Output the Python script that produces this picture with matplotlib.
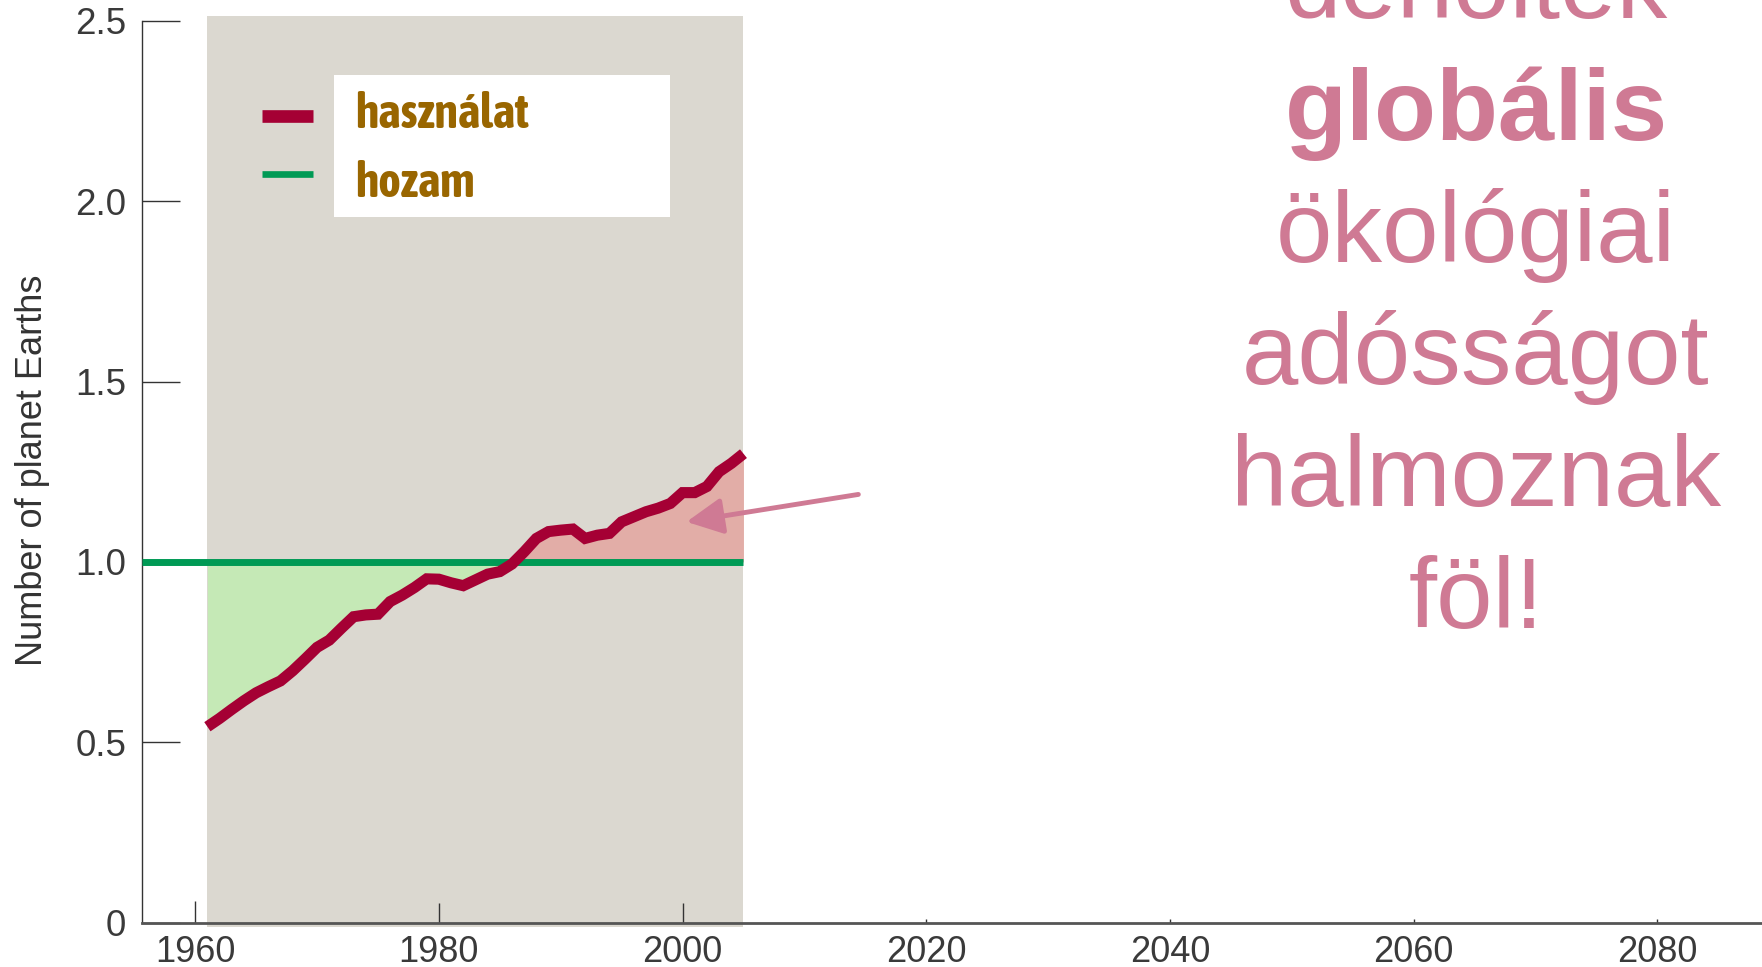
import numpy as np
import matplotlib
matplotlib.use("Agg")
import matplotlib.pyplot as plt
from matplotlib.patches import Rectangle
from matplotlib.lines import Line2D

plt.rcParams['font.family'] = ['Liberation Sans', 'DejaVu Sans']

# data: number of planet Earths used (ecological footprint) vs. biocapacity
years = np.arange(1961, 2006)
usage = [0.543, 0.566, 0.591, 0.615, 0.637, 0.654, 0.670, 0.698, 0.730, 0.763,
         0.783, 0.816, 0.848, 0.853, 0.855, 0.890, 0.908, 0.929, 0.953, 0.952,
         0.942, 0.934, 0.950, 0.966, 0.973, 0.994, 1.028, 1.065, 1.084, 1.088,
         1.091, 1.065, 1.074, 1.079, 1.111, 1.125, 1.139, 1.149, 1.162, 1.192,
         1.192, 1.209, 1.250, 1.273, 1.300]
capacity = 1.0
band_years = [1961, 2005]

x_ticks = [1960, 1980, 2000, 2020, 2040, 2060, 2080]
y_ticks = [0, 0.5, 1.0, 1.5, 2.0, 2.5]
y_labels = ['0', '0.5', '1.0', '1.5', '2.0', '2.5']
legend_labels = ['használat', 'hozam']
side_lines = ['deholtek', 'globális', 'ökológiai', 'adósságot', 'halmoznak', 'föl!']

RED = '#A50034'
GREEN = '#009A55'
PINK = '#CF7A94'
BROWN = '#996600'
W, H = 1762, 967


def fx(px):
    return px / W


def fy(py):
    return 1 - py / H


fig = plt.figure(figsize=(W / 100, H / 100), dpi=100)
ax = fig.add_axes([fx(141.6), fy(922.6), (W - 141.6) / W, 901.8 / H])
ax.set_xlim(1955.6, 2088.6)
ax.set_ylim(0, 2.5)

usage = np.array(usage)
ax.fill_between(band_years, -0.012, 2.512, color='#DBD8D0', lw=0, zorder=0.5, clip_on=False)
ax.fill_between(years, usage, capacity, where=usage <= capacity, interpolate=True,
                color='#C5E9B6', lw=0, zorder=1)
ax.fill_between(years, usage, capacity, where=usage >= capacity, interpolate=True,
                color='#E2ADA7', lw=0, zorder=1)
ax.hlines(capacity, ax.get_xlim()[0], band_years[1], color=GREEN, lw=5, zorder=3)
ax.plot(years, usage, color=RED, lw=8, solid_joinstyle='miter', solid_capstyle='butt', zorder=4)

# arrow pointing at the overshoot
ax.annotate('', xy=(2000.33, 1.111), xytext=(2014.43, 1.187),
            arrowprops=dict(arrowstyle='-|>,head_length=1.0,head_width=0.5', mutation_scale=22,
                            color=PINK, lw=3.5, shrinkA=0, shrinkB=0), zorder=6)

# axes styling
for s in ['top', 'right']:
    ax.spines[s].set_visible(False)
ax.spines['left'].set_color('#333333')
ax.spines['left'].set_linewidth(1.0)
ax.spines['bottom'].set_color('#555555')
ax.spines['bottom'].set_linewidth(2.0)
ax.spines['bottom'].set_zorder(2.6)

ax.set_yticks(y_ticks)
ax.set_yticklabels(y_labels)
ax.set_xticks(x_ticks)
ax.tick_params(axis='y', direction='in', length=27, width=1.0, color='#333333',
               labelsize=26.5, labelcolor='#3a3a3a', pad=11)
ax.tick_params(axis='x', direction='in', length=3, width=1.0, color='#333333',
               labelsize=26, labelcolor='#3a3a3a', pad=9)
for t, L in zip(ax.xaxis.get_major_ticks(), [16, 14.5, 14.5]):
    t.tick1line.set_markersize(L)

fig.text(fx(33), fy(470), 'Number of planet Earths', rotation=90, fontsize=26,
         color='#333333', ha='center', va='center')

# legend: white box, with the handles hanging outside it on the grey band
fig.add_artist(Rectangle((fx(334), fy(217)), (670 - 334) / W, (217 - 75) / H,
                         transform=fig.transFigure, facecolor='white', edgecolor='none', zorder=4))
legend_font = dict(family=['Asap Condensed', 'DejaVu Sans'], weight='bold', size=34.5)
for label, color, lw, hy, base in zip(legend_labels, [RED, GREEN], [9.1, 4.8], [116, 174], [128, 197]):
    fig.add_artist(Line2D([fx(262), fx(313)], [fy(hy), fy(hy)], transform=fig.transFigure,
                          color=color, lw=lw, solid_capstyle='butt', zorder=5))
    fig.text(fx(355), fy(base), label, color=BROWN, va='baseline', ha='left', zorder=5, **legend_font)

# big side message
for i, line in enumerate(side_lines):
    fig.text(fx(1476), fy(18 + 122 * i), line, ha='center', va='baseline',
             fontsize=73, color=PINK, fontweight='bold' if i == 1 else 'normal')

fig.savefig('out.png', dpi=100)
